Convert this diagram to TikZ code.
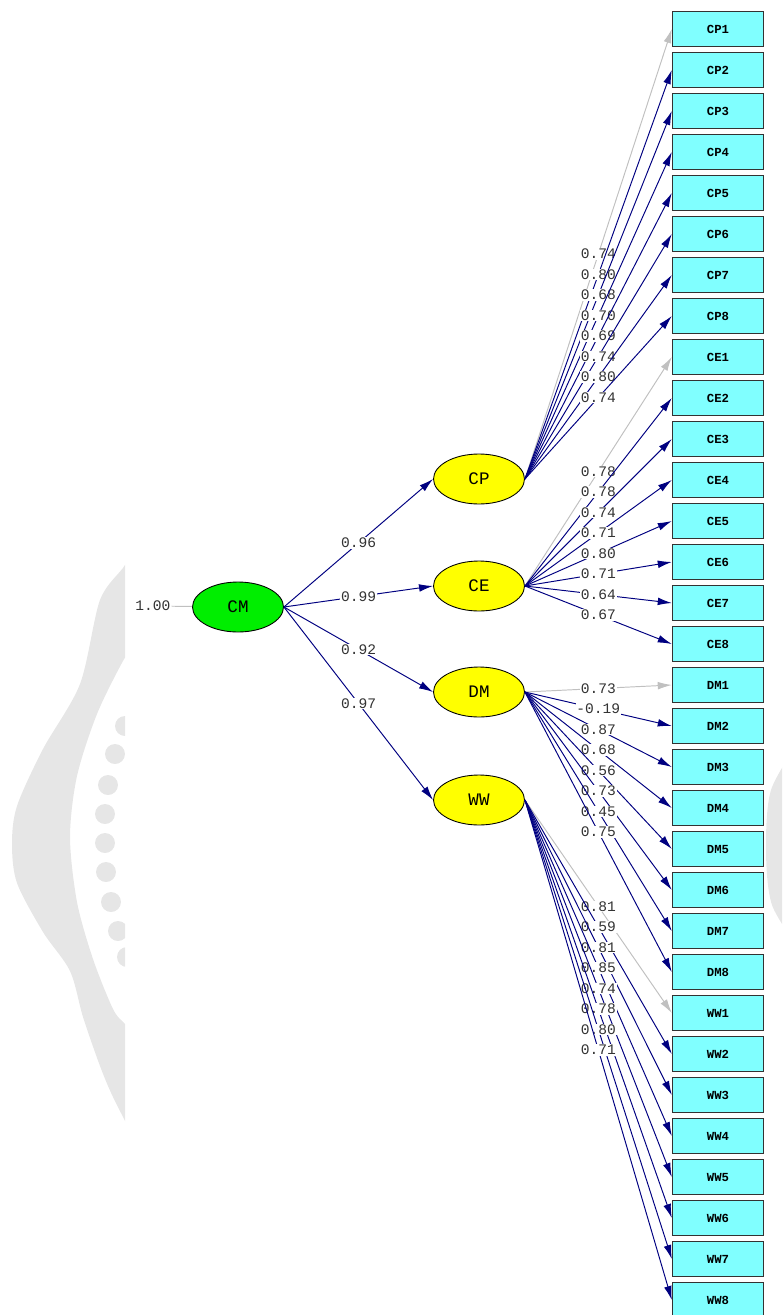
\documentclass[tikz,border=0pt]{standalone}
\usepackage{fontspec}
\setmonofont{Liberation Mono}
\usetikzlibrary{shapes.geometric,arrows.meta}
\definecolor{boxcyan}{RGB}{128,255,255}
\definecolor{latyellow}{RGB}{255,255,0}
\definecolor{cmgreen}{RGB}{0,238,0}
\definecolor{pathnavy}{RGB}{0,0,128}
\definecolor{fixgray}{RGB}{192,192,192}
\definecolor{wmark}{RGB}{230,230,230}

\begin{document}
\begin{tikzpicture}[x=0.02cm,y=-0.02cm,
  obs/.style={draw=black!80,line width=0.8pt,fill=boxcyan,minimum width=1.82cm,minimum height=0.7cm,inner sep=0pt,font=\ttfamily\bfseries\fontsize{7}{8}\selectfont},
  lat/.style={ellipse,draw=black,line width=0.5pt,fill=latyellow,minimum width=1.82cm,minimum height=1.0cm,inner sep=0pt,font=\ttfamily\fontsize{10}{12}\selectfont},
  val/.style={fill=white,inner sep=0.4pt,text=black!80,font=\ttfamily\fontsize{8.3}{9}\selectfont},
  load/.style={draw=pathnavy,line width=0.55pt,-{Latex[length=8pt,width=4.4pt]}},
  fixload/.style={draw=fixgray,line width=0.55pt,-{Latex[length=8pt,width=4.4pt]}}]

  \useasboundingbox (0,0) rectangle (782,1315);

  % faint mark behind the diagram
  \begin{scope}
    \clip (0,0) rectangle (125,1315);
    \fill[wmark] plot[smooth] coordinates {(135,540) (125,565) (100,600) (80,684) (43,749) (17,806) (12,844) (17,883) (43,932) (70,971) (83,1017) (100,1066) (113,1097) (135,1140)}
      -- plot[smooth] coordinates {(135,1035) (125,1024) (113,1009) (93,959) (77,902) (70,837) (77,776) (97,714) (123,661) (135,645)} -- cycle;
    \foreach \x/\y in {125/726,115/754,108/785,105/814,105/843,106/872,111/902,118/931,127/957}
      \fill[wmark] (\x,\y) circle (0.2cm);
  \end{scope}
  \begin{scope}
    \clip (766,0) rectangle (782,1315);
    \fill[wmark] plot[smooth] coordinates {(800,740) (771,790) (766,850) (772,905) (800,950)} -- cycle;
  \end{scope}

  % latent variables
  \node[lat, fill=cmgreen] (CM) at (238,607) {CM};
  \node[val] (cmv) at (153,606) {1.00};
  \node[lat] (CP) at (479,479) {CP};
  \node[lat] (CE) at (479,586) {CE};
  \node[lat] (DM) at (479,692) {DM};
  \node[lat] (WW) at (479,800) {WW};

  % indicators
  \foreach \obs [count=\i from 0] in {CP1,CP2,CP3,CP4,CP5,CP6,CP7,CP8,CE1,CE2,CE3,CE4,CE5,CE6,CE7,CE8,DM1,DM2,DM3,DM4,DM5,DM6,DM7,DM8,WW1,WW2,WW3,WW4,WW5,WW6,WW7,WW8}
    \node[obs] (\obs) at (718,{29+41*\i}) {\obs};

  % second order paths
  \draw[fixgray, line width=0.55pt] (cmv) -- (CM);
  \draw[load] (CM.east) -- node[val] {0.96} (CP.west);
  \draw[load] (CM.east) -- node[val] {0.99} (CE.west);
  \draw[load] (CM.east) -- node[val] {0.92} (DM.west);
  \draw[load] (CM.east) -- node[val] {0.97} (WW.west);

  % loadings
  \draw[fixload] (CP.east) -- node[val] {0.74} (CP1.west);
  \foreach \k/\v in {2/0.80,3/0.68,4/0.70,5/0.69,6/0.74,7/0.80,8/0.74}
    \draw[load] (CP.east) -- node[val] {\v} (CP\k.west);

  \draw[fixload] (CE.east) -- node[val] {0.78} (CE1.west);
  \foreach \k/\v in {2/0.78,3/0.74,4/0.71,5/0.80,6/0.71,7/0.64,8/0.67}
    \draw[load] (CE.east) -- node[val] {\v} (CE\k.west);

  \draw[fixload] (DM.east) -- node[val] {0.73} (DM1.west);
  \foreach \k/\v in {2/-0.19,3/0.87,4/0.68,5/0.56,6/0.73,7/0.45,8/0.75}
    \draw[load] (DM.east) -- node[val] {\v} (DM\k.west);

  \draw[fixload] (WW.east) -- node[val] {0.81} (WW1.west);
  \foreach \k/\v in {2/0.59,3/0.81,4/0.85,5/0.74,6/0.78,7/0.80,8/0.71}
    \draw[load] (WW.east) -- node[val] {\v} (WW\k.west);
\end{tikzpicture}
\end{document}
